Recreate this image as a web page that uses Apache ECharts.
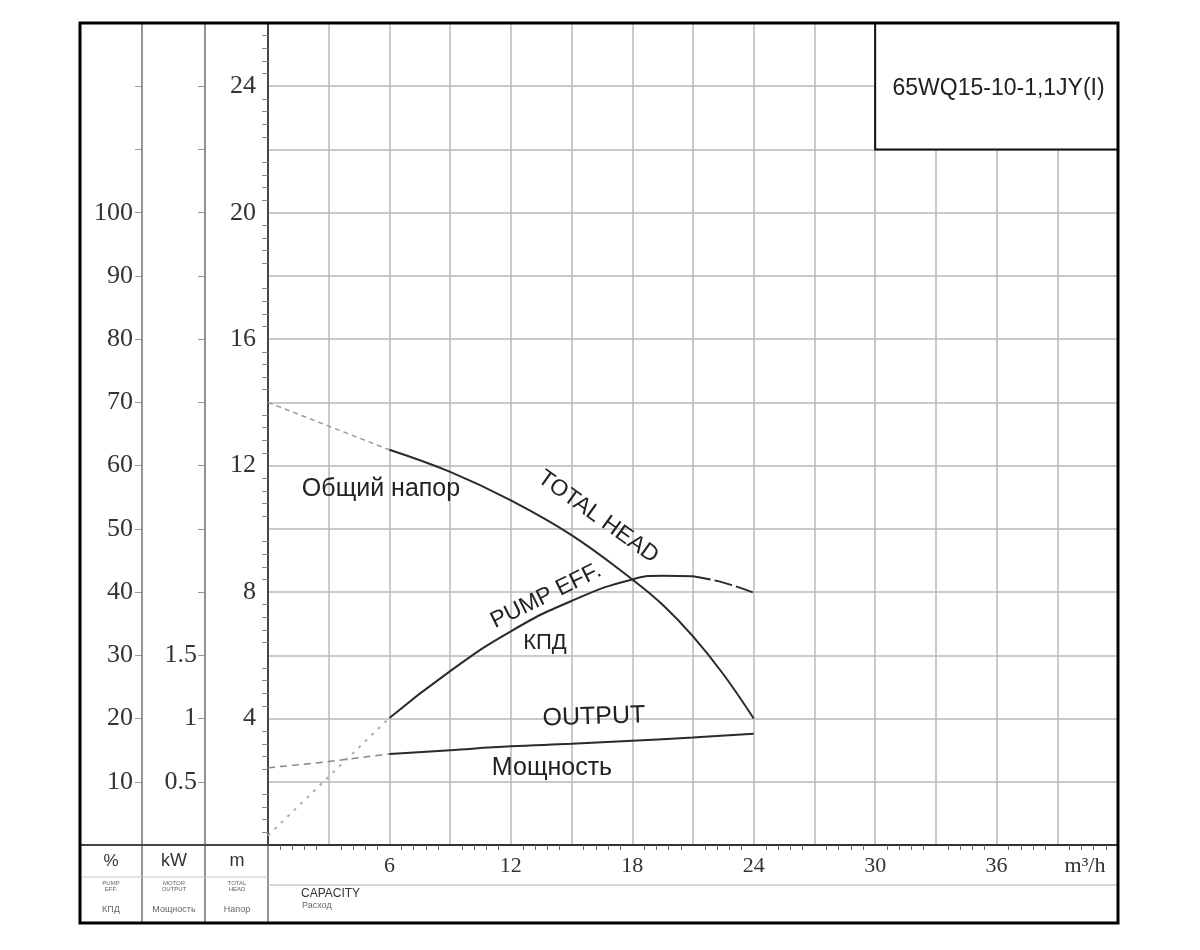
<!DOCTYPE html>
<html><head><meta charset="utf-8">
<script src="https://cdn.jsdelivr.net/npm/echarts@6/dist/echarts.min.js"></script>
<style>html,body{margin:0;padding:0;background:#fff}#c{width:1200px;height:950px}</style>
</head><body><div id="c"></div>
<script>
// ---------- data ----------
const headCap = [0, 3, 6, 9, 12, 15, 18, 19.5, 21, 22.5, 24];
const headM   = [14.0, 13.25, 12.5, 11.8, 10.9, 9.8, 8.4, 7.6, 6.6, 5.4, 4.0];
const effCap  = [0, 6, 9, 12, 15, 18, 19.5, 21, 22.5, 24];
const effPct  = [1.5, 20.1, 27.5, 33.8, 38.6, 42.0, 42.6, 42.5, 41.5, 39.9];
const powCap  = [0, 3, 6, 9, 12, 15, 18, 21, 24];
const powKW   = [0.61, 0.66, 0.72, 0.75, 0.78, 0.80, 0.825, 0.85, 0.88];
const capTicks  = [6, 12, 18, 24, 30, 36];
const headTicks = [4, 8, 12, 16, 20, 24];
const effTicks  = [10, 20, 30, 40, 50, 60, 70, 80, 90, 100];
const powTicks  = [0.5, 1, 1.5];
const modelName = '65WQ15-10-1,1JY(I)';

// ---------- layout ----------
const FR = {l: 80, t: 23, r: 1118, b: 923};
const G  = {l: 268, t: 23, r: 1118, b: 845};
const colX = [142, 205, 268];
const SERIF = '"Liberation Serif", "DejaVu Serif", serif';
const SANS = '"Liberation Sans", Arial, sans-serif';

function seg(xs, ys, from, to) {
  const out = [];
  for (let i = 0; i < xs.length; i++) if (xs[i] >= from && xs[i] <= to) out.push([xs[i], ys[i]]);
  return out;
}
const inList = (list, v) => list.some(t => Math.abs(t - v) < 1e-6);

const chart = echarts.init(document.getElementById('c'), null, {renderer: 'canvas'});

const lineSolid = {color: '#2a2a2a', width: 2};
const option = {
  backgroundColor: '#fff',
  animation: false,
  grid: {left: G.l, top: G.t, right: 1200 - G.r, bottom: 950 - G.b, containLabel: false},
  xAxis: {
    type: 'value', min: 0, max: 42, interval: 3,
    axisLine: {show: true, lineStyle: {color: '#333', width: 2}},
    axisTick: {show: false},
    minorTick: {show: true, splitNumber: 5, length: 5, lineStyle: {color: '#666', width: 1}},
    axisLabel: {
      margin: 10, fontFamily: SERIF, fontSize: 22, color: '#333',
      formatter: v => inList(capTicks, v) ? String(v) : ''
    },
    splitLine: {show: true, lineStyle: {color: '#b8b8b8', width: 1.5}}
  },
  yAxis: [
    { // head, m
      type: 'value', min: 0, max: 26, interval: 2, position: 'left', offset: 0,
      axisLine: {show: true, lineStyle: {color: '#444', width: 2}},
      axisTick: {show: false},
      minorTick: {show: true, splitNumber: 5, length: 6, lineStyle: {color: '#888', width: 1}},
      axisLabel: {
        margin: 12, fontFamily: SERIF, fontSize: 26, color: '#333',
        formatter: v => inList(headTicks, v) ? String(v) : ''
      },
      splitLine: {show: true, lineStyle: {color: '#b8b8b8', width: 1.5}}
    },
    { // efficiency, %
      type: 'value', min: 0, max: 130, interval: 10, position: 'left', offset: G.l - colX[0],
      axisLine: {show: false},
      axisTick: {show: true, length: 7, lineStyle: {color: '#999', width: 1}},
      axisLabel: {
        margin: 9, fontFamily: SERIF, fontSize: 26, color: '#333',
        formatter: v => inList(effTicks, v) ? String(v) : ''
      },
      splitLine: {show: false}
    },
    { // power, kW
      type: 'value', min: 0, max: 6.5, interval: 0.5, position: 'left', offset: G.l - colX[1],
      axisLine: {show: false},
      axisTick: {show: true, length: 7, lineStyle: {color: '#999', width: 1}},
      axisLabel: {
        margin: 8, fontFamily: SERIF, fontSize: 26, color: '#333',
        formatter: v => inList(powTicks, v) ? String(v) : ''
      },
      splitLine: {show: false}
    }
  ],
  series: [
    {name: 'head-ext', type: 'line', yAxisIndex: 0, data: seg(headCap, headM, 0, 6), showSymbol: false,
     lineStyle: {color: '#9a9a9a', width: 1.5, type: [5, 4]}},
    {name: 'TOTAL HEAD', type: 'line', yAxisIndex: 0, data: seg(headCap, headM, 6, 24), showSymbol: false,
     smooth: 0.4, lineStyle: lineSolid},
    {name: 'eff-ext', type: 'line', yAxisIndex: 1, data: seg(effCap, effPct, 0, 6), showSymbol: false,
     lineStyle: {color: '#b0b0b0', width: 2, type: [3, 6]}},
    {name: 'PUMP EFF.', type: 'line', yAxisIndex: 1, data: seg(effCap, effPct, 6, 21), showSymbol: false,
     smooth: 0.5, lineStyle: lineSolid},
    {name: 'eff-tail', type: 'line', yAxisIndex: 1, data: seg(effCap, effPct, 21, 24), showSymbol: false,
     smooth: 0.5, lineStyle: {color: '#2a2a2a', width: 2, type: [18, 4]}},
    {name: 'out-ext', type: 'line', yAxisIndex: 2, data: seg(powCap, powKW, 0, 6), showSymbol: false,
     lineStyle: {color: '#888', width: 1.5, type: [7, 5]}},
    {name: 'OUTPUT', type: 'line', yAxisIndex: 2, data: seg(powCap, powKW, 6, 24), showSymbol: false,
     smooth: 0.4, lineStyle: lineSolid}
  ]
};
chart.setOption(option);

// ---------- decorations (frame, table, labels) ----------
const boxTL = chart.convertToPixel({xAxisIndex: 0, yAxisIndex: 0}, [30, 26]);
const boxBR = chart.convertToPixel({xAxisIndex: 0, yAxisIndex: 0}, [42, 22]);
const gline = (x1, y1, x2, y2, color, w) => ({type: 'line', silent: true,
  shape: {x1, y1, x2, y2}, style: {stroke: color, lineWidth: w}, z: 10});
const gtext = (x, y, text, font, fill, align, extra) => Object.assign({type: 'text', silent: true, x, y, z: 12,
  style: {text, font, fill: fill || '#222', align: align || 'center', verticalAlign: 'middle'}}, extra || {});

const graphics = [
  // model box
  {type: 'rect', z: 11, silent: true, shape: {x: boxTL[0], y: boxTL[1], width: boxBR[0] - boxTL[0], height: boxBR[1] - boxTL[1]},
   style: {fill: '#fff', stroke: '#111', lineWidth: 2}},
  gtext((boxTL[0] + boxBR[0]) / 2 + 2, (boxTL[1] + boxBR[1]) / 2 + 2, modelName, '23px ' + SANS, '#222'),
  // column lines
  gline(colX[0], FR.t, colX[0], FR.b, '#6f6f6f', 1.5),
  gline(colX[1], FR.t, colX[1], FR.b, '#6f6f6f', 1.5),
  gline(colX[2], G.b, colX[2], FR.b, '#6f6f6f', 1.5),
  // bottom table lines
  gline(FR.l, G.b, G.l, G.b, '#444', 2),
  gline(FR.l, 877, G.l, 877, '#c8c8c8', 1),
  gline(G.l, 885, FR.r, 885, '#c8c8c8', 1.5),
  // frame
  {type: 'rect', z: 20, silent: true, shape: {x: FR.l, y: FR.t, width: FR.r - FR.l, height: FR.b - FR.t},
   style: {fill: null, stroke: '#000', lineWidth: 3}},
  // bottom header texts
  gtext(111, 861, '%', '17px ' + SANS, '#333'),
  gtext(174, 861, 'kW', '18px ' + SANS, '#333'),
  gtext(237, 861, 'm', '18px ' + SANS, '#333'),
  gtext(111, 886, 'PUMP\nEFF.', '6px ' + SANS, '#666'),
  gtext(174, 886, 'MOTOR\nOUTPUT', '6px ' + SANS, '#666'),
  gtext(237, 886, 'TOTAL\nHEAD', '6px ' + SANS, '#666'),
  gtext(111, 910, 'КПД', '9px ' + SANS, '#666'),
  gtext(174, 910, 'Мощность', '9px ' + SANS, '#666'),
  gtext(237, 910, 'Напор', '9px ' + SANS, '#666'),
  gtext(301, 894, 'CAPACITY', '12px ' + SANS, '#333', 'left'),
  gtext(302, 906, 'Расход', '9px ' + SANS, '#666', 'left'),
  gtext(1085, 866, 'm³/h', '22px ' + SERIF, '#333'),
  // curve labels
  gtext(381, 489, 'Общий напор', '25px ' + SANS, '#222'),
  gtext(598, 517, 'TOTAL HEAD', '23px ' + SANS, '#222', 'center', {rotation: -0.62}),
  gtext(546, 596, 'PUMP EFF.', '23px ' + SANS, '#222', 'center', {rotation: 0.46}),
  gtext(545, 643, 'КПД', '22px ' + SANS, '#222'),
  gtext(594, 717, 'OUTPUT', '25px ' + SANS, '#222', 'center', {rotation: 0.03}),
  gtext(552, 768, 'Мощность', '25px ' + SANS, '#222')
];
chart.setOption({graphic: graphics});
</script>
</body></html>
